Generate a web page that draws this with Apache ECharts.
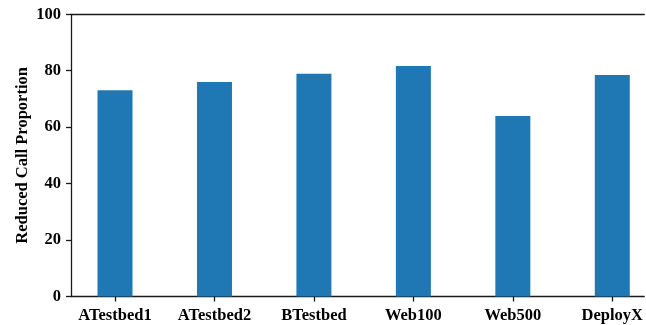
<!DOCTYPE html>
<html>
<head>
<meta charset="utf-8">
<script src="https://cdn.jsdelivr.net/npm/echarts@6/dist/echarts.min.js"></script>
<style>
  html, body { margin: 0; padding: 0; background: #fff; }
  #chart { width: 646px; height: 325px; }
</style>
</head>
<body>
<div id="chart"></div>
<script>
// Testbeds compared, and the share of calls removed on each
const categories = ['ATestbed1', 'ATestbed2', 'BTestbed', 'Web100', 'Web500', 'DeployX'];
const reducedCallProportion = [73.1, 76.0, 78.9, 81.7, 64.0, 78.5];
const yTicks = [0, 20, 40, 60, 80, 100];

const FONT = '"Liberation Serif", "DejaVu Serif", serif';
const AXIS_COLOR = '#1a1a1a';
const BAR_COLOR = '#1f77b4';

// bar positions on a numeric x scale (one unit per testbed)
const positions = categories.map((_, i) => i);
const barData = positions.map((p, i) => [p, reducedCallProportion[i]]);

const chart = echarts.init(document.getElementById('chart'), null, { renderer: 'canvas' });

chart.setOption({
  animation: false,
  backgroundColor: '#ffffff',
  grid: { left: 71, right: 0, top: 14.3, bottom: 28.5, containLabel: false },
  xAxis: [
    {
      type: 'value',
      min: -0.4425,
      max: 5.321,
      position: 'bottom',
      splitLine: { show: false },
      axisLine: { show: true, onZero: false, lineStyle: { color: AXIS_COLOR, width: 1.3 } },
      axisTick: {
        show: true, inside: false, length: 5,
        customValues: positions,
        lineStyle: { color: AXIS_COLOR, width: 1.3 }
      },
      axisLabel: {
        show: true,
        customValues: positions,
        margin: 11,
        fontFamily: FONT, fontWeight: 'bold', fontSize: 16.5, color: '#000',
        formatter: v => categories[Math.round(v)]
      }
    },
    {
      // upper frame line
      type: 'value',
      min: -0.4425,
      max: 5.321,
      position: 'top',
      splitLine: { show: false },
      axisLine: { show: true, onZero: false, lineStyle: { color: AXIS_COLOR, width: 1.3 } },
      axisTick: { show: false },
      axisLabel: { show: false }
    }
  ],
  yAxis: {
    type: 'value',
    min: 0,
    max: 100,
    interval: 20,
    position: 'left',
    name: 'Reduced Call Proportion',
    nameLocation: 'middle',
    nameGap: 40,
    nameMoveOverlap: false,
    nameTextStyle: { fontFamily: FONT, fontWeight: 'bold', fontSize: 16.5, color: '#000' },
    splitLine: { show: false },
    axisLine: { show: true, onZero: false, lineStyle: { color: AXIS_COLOR, width: 1.3 } },
    axisTick: { show: true, inside: false, length: 5, lineStyle: { color: AXIS_COLOR, width: 1.3 } },
    axisLabel: {
      margin: 10,
      fontFamily: FONT, fontWeight: 'bold', fontSize: 16.5, color: '#000',
      customValues: yTicks
    }
  },
  series: [
    {
      type: 'bar',
      xAxisIndex: 0,
      data: barData,
      barWidth: 35,
      itemStyle: { color: BAR_COLOR },
      z: 1
    }
  ]
});
</script>
</body>
</html>
